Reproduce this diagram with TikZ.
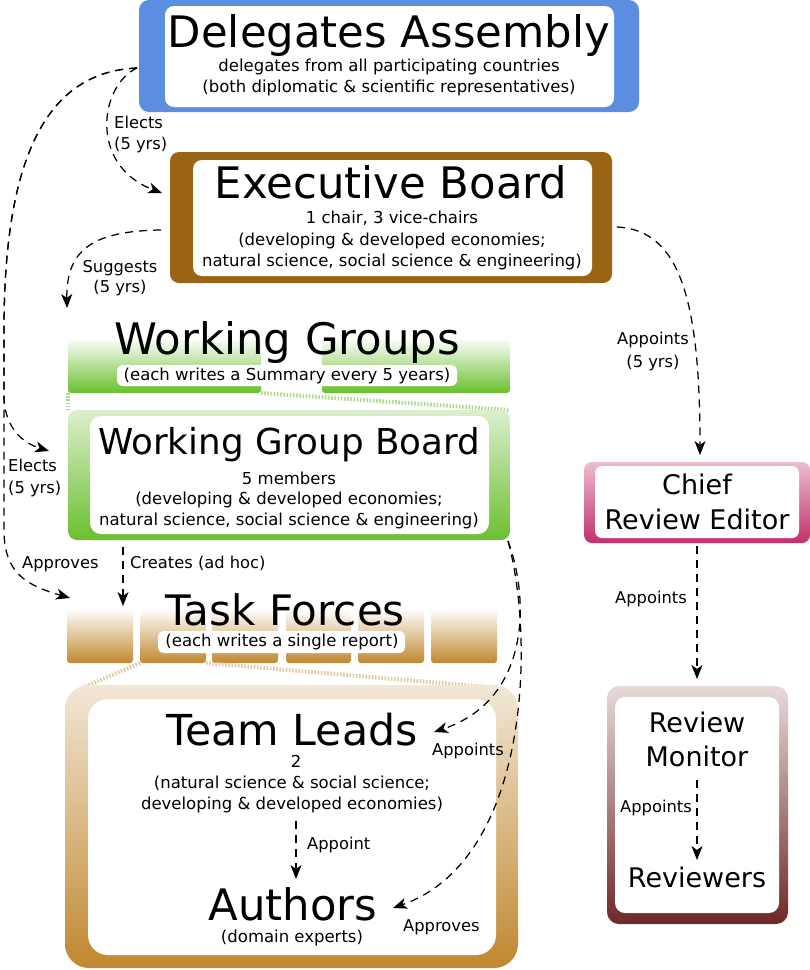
\documentclass[tikz,border=0pt]{standalone}
\usepackage{fontspec}
\setmainfont{DejaVu Sans}
\usetikzlibrary{arrows.meta}
\definecolor{dablue}{HTML}{5B8EE0}
\definecolor{ebbrown}{HTML}{996515}
\definecolor{wggreen}{HTML}{6BBF2F}
\definecolor{wglight}{HTML}{DCEFCD}
\definecolor{tftan}{HTML}{C08830}
\definecolor{tflight}{HTML}{F2E7D6}
\definecolor{crpink}{HTML}{C2306A}
\definecolor{crlight}{HTML}{ECBCD0}
\definecolor{rmdark}{HTML}{6E2828}
\definecolor{rmlight}{HTML}{E8DADA}
\begin{document}
\begin{tikzpicture}[x=1pt,y=-1pt,
 conn/.style={line width=1.25pt, dash pattern=on 8pt off 6pt, -{Stealth[length=14pt,width=11pt,inset=4pt]}},
 title/.style={anchor=base, inner sep=0pt, font=\fontsize{43.4}{50}\selectfont},
 sub/.style={anchor=base, inner sep=0pt, font=\fontsize{16.5}{20}\selectfont},
 mid/.style={anchor=base, inner sep=0pt, font=\fontsize{27}{32}\selectfont},
 lbl/.style={anchor=base west, inner sep=0pt, font=\fontsize{16.3}{19}\selectfont},
 lblc/.style={anchor=base, inner sep=0pt, font=\fontsize{16.3}{19}\selectfont},
 zoomline/.style={line width=4pt, dash pattern=on 1.6pt off 1.6pt},
 bar/.style={rounded corners=3pt},
]
\useasboundingbox (0,0) rectangle (810,970);

% Delegates Assembly
\fill[dablue, rounded corners=10pt] (139,0) rectangle (639,112);
\fill[white, rounded corners=9pt] (165,6) rectangle (614,107);
\node[title] (da-title) at (389,47) {Delegates Assembly};
\node[sub] (da-s1) at (389,71) {delegates from all participating countries};
\node[sub] (da-s2) at (389,92) {(both diplomatic \& scientific representatives)};

% Executive Board
\fill[ebbrown, rounded corners=9pt] (170,152) rectangle (612,283);
\fill[white, rounded corners=9pt] (193,160) rectangle (592,276);
\node[title] (eb-title) at (391,198) {Executive Board};
\node[sub] (eb-s1) at (392,223) {1 chair, 3 vice-chairs};
\node[sub] (eb-s2) at (392,245) {(developing \& developed economies;};
\node[sub] (eb-s3) at (392,266) {natural science, social science \& engineering)};

% Working Groups
\shade[bar, top color=wggreen!5, middle color=wggreen!60, bottom color=wggreen] (68,340) rectangle (261,393);
\shade[bar, top color=wggreen!5, middle color=wggreen!60, bottom color=wggreen] (322,340) rectangle (510,393);
\draw[zoomline, color=wggreen!55] (68,393) -- (68,410);
\draw[zoomline, color=wggreen!55] (261,393) -- (510,410);
\fill[white, rounded corners=6pt] (117,365) rectangle (457,386);
\node[title] (wg-title) at (287,354) {Working Groups};
\node[sub] (wg-s1) at (287,380) {(each writes a Summary every 5 years)};

% Working Group Board
\shade[top color=wglight, bottom color=wggreen, rounded corners=9pt] (68,410) rectangle (510,540);
\fill[white, rounded corners=11pt] (90,416) rectangle (489,534);
\node[title, font=\fontsize{35.7}{42}\selectfont] (wgb-title) at (289,454) {Working Group Board};
\node[sub] (wgb-s1) at (289,484) {5 members};
\node[sub] (wgb-s2) at (289,504) {(developing \& developed economies;};
\node[sub] (wgb-s3) at (289,525) {natural science, social science \& engineering)};

% Task Forces
\foreach \a/\b in {67/133,140/206,212/278,286/351,358/424,431/497}
  \shade[bar, top color=white, bottom color=tftan] (\a,609) rectangle (\b,663);
\draw[zoomline, color=tftan!45] (140,663) -- (82,688);
\draw[zoomline, color=tftan!45] (206,663) -- (500,688);
\fill[white, rounded corners=6pt] (158,631) rectangle (405,653);
\node[title, font=\fontsize{42}{48}\selectfont] (tf-title) at (285,625) {Task Forces};
\node[sub] (tf-s1) at (282,646) {(each writes a single report)};

% Team Leads / Authors
\shade[top color=tflight, bottom color=tftan, rounded corners=24pt] (65,685) rectangle (518,968);
\fill[white, rounded corners=20pt] (88,699) rectangle (496,955);
\node[title, font=\fontsize{42.7}{48}\selectfont] (tl-title) at (292,745) {Team Leads};
\node[sub] (tl-s1) at (296,767) {2};
\node[sub] (tl-s2) at (292,788) {(natural science \& social science;};
\node[sub] (tl-s3) at (292,809) {developing \& developed economies)};
\node[title] (au-title) at (293,920) {Authors};
\node[sub] (au-s1) at (292,942) {(domain experts)};

% Chief Review Editor
\shade[top color=crlight, bottom color=crpink, rounded corners=8pt] (584,462) rectangle (810,543);
\fill[white, rounded corners=7pt] (595,466) rectangle (799,538);
\node[mid] (cre-1) at (697,494) {Chief};
\node[mid] (cre-2) at (697,529) {Review Editor};

% Review Monitor / Reviewers
\shade[top color=rmlight, bottom color=rmdark, rounded corners=12pt] (607,686) rectangle (788,924);
\fill[white, rounded corners=10pt] (615,697) rectangle (779,913);
\node[mid] (rm-1) at (697,732) {Review};
\node[mid] (rm-2) at (697,766) {Monitor};
\node[mid] (rv-1) at (697,887) {Reviewers};

% connector end points
\coordinate (da-l) at (137,68);
\coordinate (eb-in) at (162,193);
\coordinate (eb-l) at (161,230);
\coordinate (wg-in) at (67,308);
\coordinate (eb-r) at (617,227);
\coordinate (cre-in) at (700,455);
\coordinate (wgb-in) at (49,451);
\coordinate (tf-in1) at (70,598);
\coordinate (wgb-b) at (123,547);
\coordinate (tf-in2) at (123,606);
\coordinate (wgb-c) at (508,541);
\coordinate (tl-in) at (434,732);
\coordinate (au-in) at (393,908);
\coordinate (tl-b) at (296,821);
\coordinate (au-t) at (296,879);
\coordinate (cre-b) at (697,546);
\coordinate (rm-t) at (697,679);
\coordinate (rm-m) at (697,780);
\coordinate (rv-t) at (697,860);

% connectors
\draw[conn] (da-l) .. controls (100,85) and (88,165) .. (eb-in);
\draw[conn] (da-l) .. controls (45,72) and (4,160) .. (4,330) -- (4,395) .. controls (4,425) and (20,442) .. (wgb-in);
\draw[conn] (da-l) .. controls (45,72) and (4,160) .. (4,330) -- (4,530) .. controls (4,572) and (25,585) .. (tf-in1);
\draw[conn] (eb-l) .. controls (95,231) and (66,248) .. (wg-in);
\draw[conn] (eb-r) .. controls (680,230) and (700,300) .. (cre-in);
\draw[conn] (wgb-b) -- (tf-in2);
\draw[conn] (wgb-c) .. controls (530,600) and (530,700) .. (tl-in);
\draw[conn] (wgb-c) .. controls (535,640) and (530,860) .. (au-in);
\draw[conn] (tl-b) -- (au-t);
\draw[conn] (cre-b) -- (rm-t);
\draw[conn] (rm-m) -- (rv-t);

% labels
\node[lbl] (l-el1a) at (114,128) {Elects};
\node[lbl] (l-el1b) at (114,149) {(5 yrs)};
\node[lblc] (l-sga) at (120,272) {Suggests};
\node[lblc] (l-sgb) at (120,292) {(5 yrs)};
\node[lblc] (l-apa) at (653,344) {Appoints};
\node[lblc] (l-apb) at (653,367) {(5 yrs)};
\node[lbl] (l-el2a) at (8,471) {Elects};
\node[lbl] (l-el2b) at (8,493) {(5 yrs)};
\node[lbl] (l-apr1) at (22,568) {Approves};
\node[lbl] (l-cr) at (130,568) {Creates (ad hoc)};
\node[lbl] (l-ap2) at (432,755) {Appoints};
\node[lbl] (l-ap3) at (307,849) {Appoint};
\node[lbl] (l-apr2) at (403,931) {Approves};
\node[lbl] (l-ap4) at (615,603) {Appoints};
\node[lbl] (l-ap5) at (620,812) {Appoints};
\end{tikzpicture}
\end{document}
